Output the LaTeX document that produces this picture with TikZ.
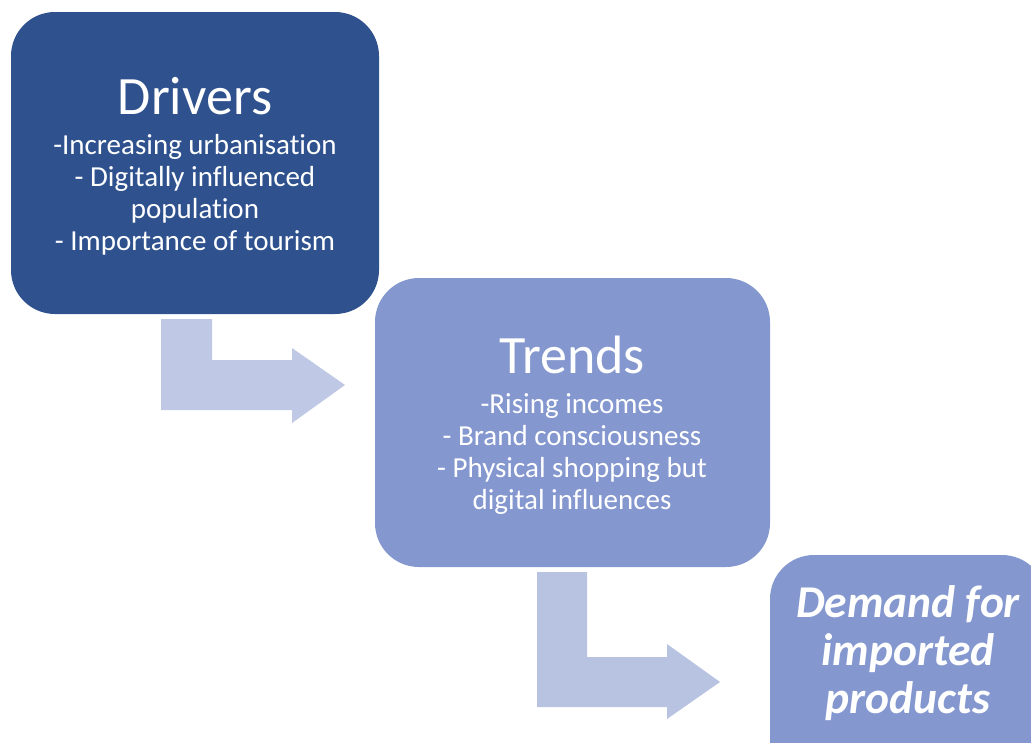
\documentclass[tikz,border=0pt]{standalone}
\usepackage{fontspec}
\setmainfont{Carlito}[Ligatures=NoCommon]
\definecolor{darkbox}{HTML}{2F528F}
\definecolor{lightbox}{HTML}{8497CF}
\definecolor{arrowA}{HTML}{BFC9E5}
\definecolor{arrowB}{HTML}{B8C3E2}
\begin{document}
\begin{tikzpicture}[x=1pt,y=-1pt,
  boxdark/.style={fill=darkbox,draw=none,rounded corners=44pt},
  boxlight/.style={fill=lightbox,draw=none,rounded corners=44pt},
  titletext/.style={text=white,inner sep=0pt,anchor=base,font=\fontsize{54}{58}\selectfont},
  bodytext/.style={text=white,inner sep=0pt,anchor=base,align=center,font=\fontsize{29}{32}\selectfont},
  demandtext/.style={text=white,inner sep=0pt,anchor=base,align=center,font=\fontsize{45.5}{48}\selectfont\bfseries\itshape}]
\useasboundingbox (0,0) rectangle (1031,742);
\clip (0,0) rectangle (1031,742);
% boxes
\path[boxdark] (11,12) rectangle (379,314);
\path[boxlight] (375,278) rectangle (770,567);
\path[boxlight] (770,555) rectangle (1046,790);
% bent arrows
\fill[arrowA] (161,319) -- (212,319) -- (212,360) -- (292,360) -- (292,348) -- (345,385) -- (292,423) -- (292,410) -- (161,410) -- cycle;
\fill[arrowB] (537,572) -- (587,572) -- (587,657) -- (667,657) -- (667,644) -- (720,682) -- (667,719) -- (667,707) -- (537,707) -- cycle;
% texts
\node[titletext] (drivers) at (195,114) {Drivers};
\node[bodytext] (d1) at (195,154) {-Increasing urbanisation};
\node[bodytext] (d2) at (195,186) {- Digitally influenced};
\node[bodytext] (d3) at (195,218) {population};
\node[bodytext] (d4) at (195,250) {- Importance of tourism};
\node[titletext] (trends) at (572,373) {Trends};
\node[bodytext] (t1) at (572,413) {-Rising incomes};
\node[bodytext] (t2) at (572,445) {- Brand consciousness};
\node[bodytext] (t3) at (572,477) {- Physical shopping but};
\node[bodytext] (t4) at (572,509) {digital influences};
\node[demandtext] (m1) at (908,617) {Demand for};
\node[demandtext] (m2) at (908,665) {imported};
\node[demandtext] (m3) at (908,713) {products};
\end{tikzpicture}
\end{document}
